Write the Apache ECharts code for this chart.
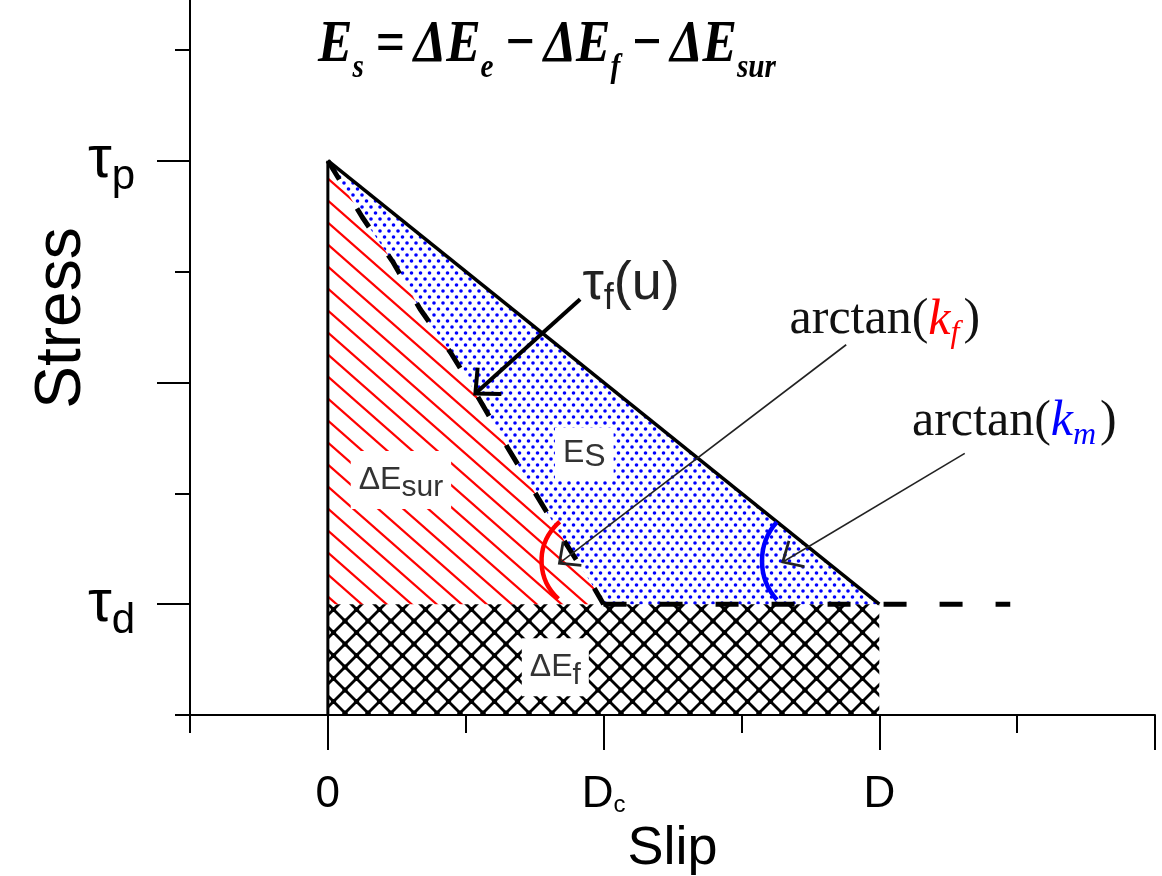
<!DOCTYPE html>
<html>
<head>
<meta charset="utf-8">
<script src="https://cdn.jsdelivr.net/npm/echarts@6/dist/echarts.min.js"></script>
<style>
  html, body { margin: 0; padding: 0; background: #fff; }
  #chart { width: 1162px; height: 876px; }
</style>
</head>
<body>
<div id="chart"></div>
<script>
// axes: slip in units (D_c = 2, D = 4), stress in units (tau_d = 1, tau_p = 5)
const slipMajorTicks = [0, 2, 4, 6];
const slipMinorTicks = [-1, 1, 3, 5];
const slipLabelValues = [0, 2, 4];
const slipLabelText = ['0', '{m|D}{c|c}', 'D'];
const stressMajorTicks = [1, 3, 5];
const stressMinorTicks = [0, 2, 4, 6];
const stressLabelValues = [1, 5];
const stressLabelSub = ['d', 'p'];

// linear slip weakening, the friction curve tau_f(u), dynamic level
const linearWeakening = [[0, 5], [4, 1]];
const frictionCurve = [[0, 5], [0.25, 4.49], [0.47, 4.09], [0.67, 3.66], [0.89, 3.27], [1.07, 2.91],
  [1.3, 2.42], [1.5, 2.01], [1.71, 1.58], [1.92, 1.17], [2, 1]];
const dynamicLevel = [[2, 1], [4.95, 1]];
const faultEdge = [[0, 0], [0, 5]];

// energy areas
const fractureArea = [[0, 0], [4, 0], [4, 1], [0, 1]];
const surfaceArea = [[0, 1]].concat(frictionCurve);
const seismicArea = frictionCurve.concat([[4, 1]]);

// angle arcs (centre) and their spans in degrees
const arcCenters = [[1.92, 1.39], [3.57, 1.39]];
const arcSpans = [[132, 230], [138, 222]];

// annotation arrows: [from, to]
const arrowTauF = [[1.83, 3.75], [1.07, 2.90]];
const arrowKf = [[3.76, 3.34], [1.68, 1.37]];
const arrowKm = [[4.62, 2.36], [3.30, 1.38]];

// text anchors
const posSurface = [0.53, 2.12];
const posSeismic = [1.86, 2.36];
const posFracture = [1.65, 0.43];
const posTauF = [2.2, 3.89];
const posKf = [4.04, 3.56];
const posKm = [4.98, 2.64];

const sans = "'Liberation Sans', Arial, sans-serif";
const serif = "'Liberation Serif', 'Times New Roman', serif";

function makePattern(w, h, draw) {
  const c = document.createElement('canvas');
  c.width = w; c.height = h;
  draw(c.getContext('2d'), w, h);
  return { image: c, repeat: 'repeat' };
}

// red diagonal hatch
const redHatch = makePattern(25, 22, (ctx, w, h) => {
  ctx.strokeStyle = '#ff0000'; ctx.lineWidth = 2.2;
  for (const dx of [-w, 0, w]) {
    ctx.beginPath(); ctx.moveTo(dx - w, -h); ctx.lineTo(dx + 2 * w, 2 * h); ctx.stroke();
  }
});
// blue dots
const blueDots = makePattern(9, 12, (ctx) => {
  ctx.fillStyle = '#0000ff';
  for (const [x, y] of [[2, 3], [6.5, 9]]) {
    ctx.beginPath(); ctx.arc(x, y, 1.8, 0, Math.PI * 2); ctx.fill();
  }
});
// black cross hatch
const crossHatch = makePattern(23, 23, (ctx, w) => {
  ctx.strokeStyle = '#000'; ctx.lineWidth = 2.8;
  for (const dx of [-w, 0, w]) {
    ctx.beginPath(); ctx.moveTo(dx - w, -w); ctx.lineTo(dx + 2 * w, 2 * w); ctx.stroke();
    ctx.beginPath(); ctx.moveTo(dx + 2 * w, -w); ctx.lineTo(dx - w, 2 * w); ctx.stroke();
  }
  ctx.fillStyle = '#000';
  for (const [x, y] of [[0, 0], [w, 0], [0, w], [w, w], [w / 2, w / 2]]) {
    ctx.beginPath(); ctx.arc(x, y, 2.6, 0, Math.PI * 2); ctx.fill();
  }
});

function areaSeries(pts, fill) {
  return {
    type: 'custom', silent: true, z: 1,
    data: [pts[0]],
    renderItem: (params, api) => ({
      type: 'polygon',
      shape: { points: pts.map(p => api.coord(p)) },
      style: { fill: fill }
    })
  };
}

function lineSeries(data, lineStyle, z) {
  return { type: 'line', data: data, showSymbol: false, silent: true, z: z || 3, lineStyle: lineStyle, animation: false };
}

function arrowSeries(pts, width, headWidth, head, color) {
  return {
    type: 'custom', silent: true, z: 8,
    data: [pts[0].concat(pts[1])],
    renderItem: (params, api) => {
      const a = api.coord(pts[0]), b = api.coord(pts[1]);
      const ang = Math.atan2(b[1] - a[1], b[0] - a[0]);
      const spread = 0.75;
      const h1 = [b[0] - head * Math.cos(ang - spread), b[1] - head * Math.sin(ang - spread)];
      const h2 = [b[0] - head * Math.cos(ang + spread), b[1] - head * Math.sin(ang + spread)];
      return {
        type: 'group', children: [
          { type: 'line', shape: { x1: a[0], y1: a[1], x2: b[0], y2: b[1] }, style: { stroke: color, lineWidth: width } },
          { type: 'polyline', shape: { points: [h1, b, h2] }, style: { stroke: color, lineWidth: headWidth, fill: null } }
        ]
      };
    }
  };
}

function arcSeries(idx, r, color) {
  return {
    type: 'custom', silent: true, z: 6,
    data: [arcCenters[idx]],
    renderItem: (params, api) => {
      const c = api.coord(arcCenters[idx]);
      return {
        type: 'arc',
        shape: { cx: c[0], cy: c[1], r: r, startAngle: arcSpans[idx][0] * Math.PI / 180, endAngle: arcSpans[idx][1] * Math.PI / 180, clockwise: true },
        style: { stroke: color, lineWidth: 4.5, fill: null }
      };
    }
  };
}

function textSeries(pos, text, rich, bg) {
  return {
    type: 'custom', silent: true, z: 7,
    data: [pos],
    renderItem: (params, api) => {
      const p = api.coord(pos);
      return {
        type: 'text', x: p[0], y: p[1],
        style: {
          text: text, rich: rich, align: 'center', verticalAlign: 'middle',
          backgroundColor: bg ? '#fff' : null, padding: bg ? [6, 8] : 0
        }
      };
    }
  };
}

const labelRich = {
  m: { fontFamily: sans, fontSize: 32, fill: '#333' },
  s: { fontFamily: sans, fontSize: 30, fill: '#333', padding: [16, 0, 0, 0] },
  t: { fontFamily: sans, fontSize: 32, fill: '#333', padding: [8, 0, 0, 0] }
};

const formulaFont = { fontFamily: serif, fontSize: 60, fontWeight: 'bold', fontStyle: 'italic', fill: '#000' };

const chart = echarts.init(document.getElementById('chart'));

const option = {
  animation: false,
  backgroundColor: '#fff',
  grid: { left: 190, right: 7, top: 0, bottom: 161, outerBoundsMode: 'none', containLabel: false },
  xAxis: [
    {
      type: 'value', min: -1, max: 6, position: 'bottom',
      axisLine: { onZero: false, lineStyle: { color: '#000', width: 2 } },
      splitLine: { show: false },
      axisTick: { customValues: slipMajorTicks, length: 35, lineStyle: { color: '#000', width: 2 } },
      axisLabel: {
        customValues: slipLabelValues, margin: 58,
        formatter: v => slipLabelText[slipLabelValues.indexOf(v)],
        fontFamily: sans, fontSize: 44, color: '#000',
        rich: {
          m: { fontFamily: sans, fontSize: 44, color: '#000' },
          c: { fontFamily: sans, fontSize: 24, color: '#000', padding: [20, 0, 0, 0] }
        }
      },
      name: 'Slip', nameLocation: 'middle', nameGap: 100,
      nameTextStyle: { fontFamily: sans, fontSize: 54, color: '#000' }
    },
    {
      type: 'value', min: -1, max: 6, position: 'bottom',
      axisLine: { show: false, onZero: false }, splitLine: { show: false }, axisLabel: { show: false },
      axisTick: { customValues: slipMinorTicks, length: 18, lineStyle: { color: '#000', width: 2 } }
    }
  ],
  yAxis: [
    {
      type: 'value', min: 0, max: 6.45, position: 'left',
      axisLine: { onZero: false, lineStyle: { color: '#000', width: 2 } },
      splitLine: { show: false },
      axisTick: { customValues: stressMajorTicks, length: 33, lineStyle: { color: '#000', width: 2 } },
      axisLabel: {
        customValues: stressLabelValues, margin: 55,
        formatter: v => '{t|τ}{s|' + stressLabelSub[stressLabelValues.indexOf(v)] + '}',
        rich: {
          t: { fontFamily: sans, fontSize: 60, color: '#000' },
          s: { fontFamily: sans, fontSize: 42, color: '#000', padding: [34, 0, 0, 0] }
        }
      }
    },
    {
      type: 'value', min: 0, max: 6.45, position: 'left',
      axisLine: { show: false, onZero: false }, splitLine: { show: false }, axisLabel: { show: false },
      axisTick: { customValues: stressMinorTicks, length: 15, lineStyle: { color: '#000', width: 2 } }
    }
  ],
  graphic: [
    {
      type: 'text', x: 62, y: 318, rotation: Math.PI / 2,
      style: { text: 'Stress', font: '64px ' + sans, fill: '#000', align: 'center', verticalAlign: 'middle' }
    },
    {
      type: 'text', x: 318, y: 5, scaleX: 0.86,
      style: {
        text: '{b|E}{s|s}{o|=}{b|ΔE}{s|e}{o|−}{b|ΔE}{s|f}{o|−}{b|ΔE}{s|sur}',
        rich: {
          b: formulaFont,
          o: { fontFamily: serif, fontSize: 60, fontWeight: 'bold', fill: '#000', padding: [0, 10, 0, 14] },
          s: { fontFamily: serif, fontSize: 34, fontWeight: 'bold', fontStyle: 'italic', fill: '#000', padding: [46, 0, 0, 0] }
        }
      }
    }
  ],
  series: [
    areaSeries(fractureArea, crossHatch),
    areaSeries(surfaceArea, redHatch),
    areaSeries(seismicArea, blueDots),
    lineSeries(faultEdge, { color: '#000', width: 3 }),
    lineSeries(linearWeakening, { color: '#000', width: 3.5 }),
    lineSeries(frictionCurve, { color: '#000', width: 5, type: [22, 34], cap: 'butt' }, 4),
    lineSeries(dynamicLevel, { color: '#000', width: 5, type: [23, 33], cap: 'butt' }, 4),
    arcSeries(0, 51, '#ff0000'),
    arcSeries(1, 58, '#0000ff'),
    textSeries(posSurface, '{m|ΔE}{s|sur}', labelRich, true),
    textSeries(posSeismic, '{m|E}{t|S}', labelRich, true),
    textSeries(posFracture, '{m|ΔE}{s|f}', labelRich, true),
    textSeries(posTauF, '{m|τ}{s|f}{m|(u)}', {
      m: { fontFamily: sans, fontSize: 54, fill: '#222' },
      s: { fontFamily: sans, fontSize: 36, fill: '#222', padding: [30, 0, 0, 0] }
    }, false),
    textSeries(posKf, '{m|arctan(}{k|k}{f|f}{m|)}', {
      m: { fontFamily: serif, fontSize: 50, fill: '#111' },
      k: { fontFamily: serif, fontSize: 50, fontStyle: 'italic', fill: '#ff0000' },
      f: { fontFamily: serif, fontSize: 32, fontStyle: 'italic', fill: '#ff0000', padding: [26, 4, 0, 0] }
    }, false),
    textSeries(posKm, '{m|arctan(}{k|k}{f|m}{m|)}', {
      m: { fontFamily: serif, fontSize: 50, fill: '#111' },
      k: { fontFamily: serif, fontSize: 50, fontStyle: 'italic', fill: '#0000ff' },
      f: { fontFamily: serif, fontSize: 32, fontStyle: 'italic', fill: '#0000ff', padding: [26, 4, 0, 0] }
    }, false),
    arrowSeries(arrowTauF, 4, 4, 26, '#000'),
    arrowSeries(arrowKf, 1.6, 2.8, 22, '#222'),
    arrowSeries(arrowKm, 1.6, 2.8, 22, '#222')
  ]
};

chart.setOption(option);
window.onresize = () => chart.resize();
</script>
</body>
</html>
